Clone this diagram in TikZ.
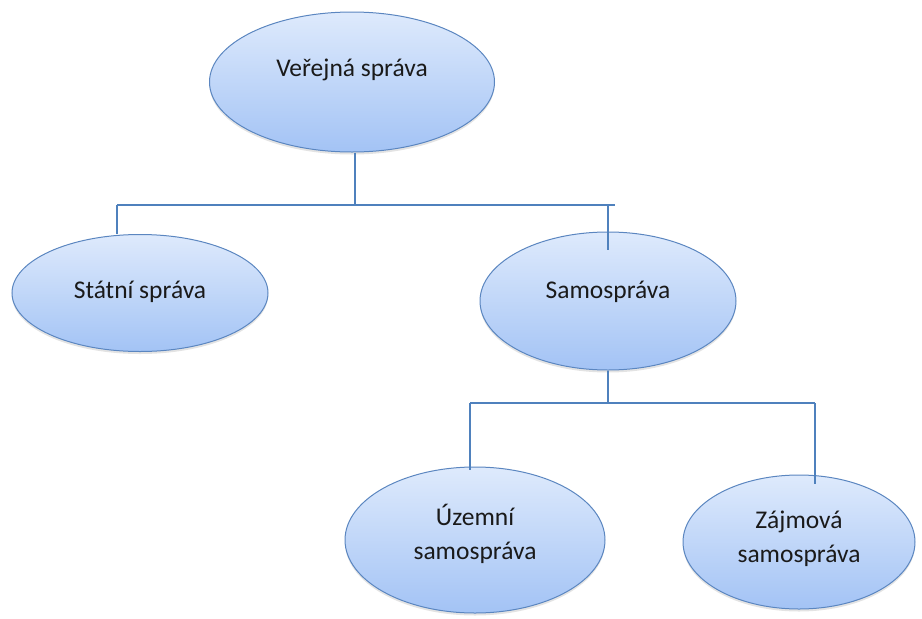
\documentclass[tikz,border=0pt]{standalone}
\usepackage{fontspec}
\setmainfont{Carlito}
\usetikzlibrary{shapes.geometric,shadows}
\definecolor{ovaltop}{HTML}{DEEAFC}
\definecolor{ovalbot}{HTML}{A3C3F5}
\definecolor{ovalline}{HTML}{5B86C0}
\definecolor{connc}{HTML}{4F81BD}
\definecolor{textc}{HTML}{1A1A1A}
\begin{document}
\begin{tikzpicture}[x=1pt,y=-1pt,
  oval/.style={ellipse, draw=ovalline, line width=1pt, top color=ovaltop, bottom color=ovalbot, inner sep=0pt,
    drop shadow={opacity=0.18, shadow xshift=0pt, shadow yshift=-2.5pt, fill=black!60}},
  lbl/.style={font=\fontsize{25.5}{34}\selectfont, text=textc, align=center, inner sep=0pt},
  conn/.style={draw=connc, line width=1.3pt}]
\useasboundingbox (0,0) rectangle (922,619);
% ellipses
\node[oval, minimum width=285pt, minimum height=140pt] (v) at (352,82) {};
\node[oval, minimum width=256pt, minimum height=117pt] (s) at (140,293) {};
\node[oval, minimum width=256pt, minimum height=138pt] (m) at (608,301) {};
\node[oval, minimum width=260pt, minimum height=146pt] (u) at (475,540) {};
\node[oval, minimum width=232pt, minimum height=134pt] (z) at (799,542) {};
% labels
\node[lbl] (vt) at (352,70) {Veřejná správa};
\node[lbl] (st) at (140,292) {Státní správa};
\node[lbl] (mt) at (608,292) {Samospráva};
\node[lbl] (ut) at (475,534) {Územní\\samospráva};
\node[lbl] (zt) at (799,539) {Zájmová\\samospráva};
% connectors
\coordinate (j1) at (355,205);
\coordinate (b1l) at (117,205);
\coordinate (b1r) at (615,205);
\coordinate (j2) at (608,403);
\coordinate (b2l) at (470,403);
\coordinate (b2r) at (815,403);
\coordinate (zin) at (815,484);
\draw[conn] ([xshift=3pt]v.south) -- (j1);
\draw[conn] (b1l) -- (b1r);
\draw[conn] (b1l) -- (b1l |- s.north);
\draw[conn] (m.north |- j1) -- ([yshift=-18pt]m.north);
\draw[conn] (m.south) -- (j2);
\draw[conn] (b2l) -- (b2r);
\draw[conn] (b2l) -- ([yshift=-3pt]b2l |- u.north);
\draw[conn] (b2r) -- (zin);
\end{tikzpicture}
\end{document}
